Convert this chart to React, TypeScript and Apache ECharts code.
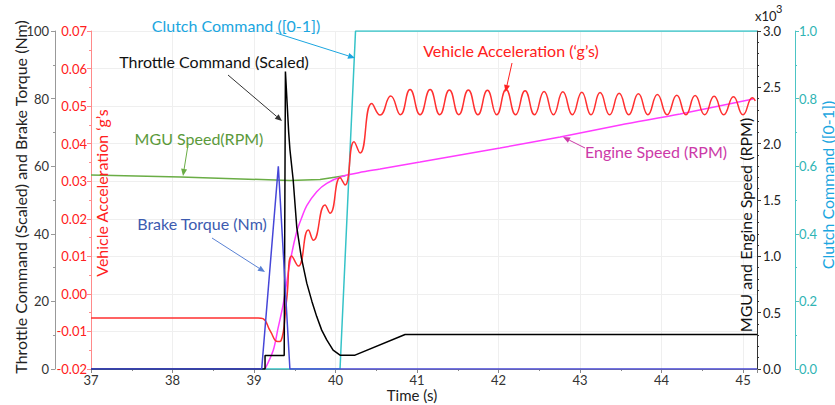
import React, { useEffect, useRef } from 'react';
import * as echarts from 'echarts';

// ---- data (time in s) ----
const throttle: [number, number][] = [
  [37, 0], [39.135, 0], [39.135, 4], [39.37, 4], [39.385, 88], [39.425, 70], [39.44, 65],
  [39.48, 56], [39.524, 42], [39.58, 33], [39.647, 25.4], [39.71, 20], [39.769, 15.5],
  [39.83, 11.5], [39.892, 8.6], [39.97, 5.6], [40.055, 4.1], [40.239, 4.1], [40.853, 10.2], [45.17, 10.2],
];
const brake: [number, number][] = [
  [37, 0], [39.094, 0], [39.298, 60], [39.44, 0], [45.17, 0],
];
const accel: [number, number][] = [
  [37.0, -0.0064], [39.05, -0.0064], [39.11, -0.0066], [39.2, -0.0099], [39.29, -0.0127], [39.33, -0.0125],
  [39.4, -0.0016], [39.463, 0.0101], [39.544, 0.0074], [39.666, 0.017], [39.728, 0.0143],
  [39.871, 0.0237], [39.933, 0.0215], [40.055, 0.0309], [40.117, 0.029], [40.227, 0.0405],
  [40.301, 0.0375], [40.444, 0.0507], [40.546, 0.0476], [40.677, 0.0527], [40.796, 0.0477],
  [40.914, 0.0544], [41.037, 0.0477], [41.16, 0.0544], [41.278, 0.0477], [41.396, 0.0543],
  [41.512, 0.0477], [41.629, 0.0543], [41.746, 0.0477], [41.863, 0.0542], [41.977, 0.0477],
  [42.092, 0.0544], [42.209, 0.0477], [42.325, 0.0541], [42.441, 0.0477], [42.558, 0.0539],
  [42.673, 0.0477], [42.788, 0.0538], [42.905, 0.0477], [43.021, 0.0537], [43.133, 0.0477],
  [43.245, 0.0536], [43.362, 0.0477], [43.479, 0.0534], [43.597, 0.0477], [43.715, 0.0533],
  [43.831, 0.0477], [43.948, 0.0531], [44.067, 0.0477], [44.186, 0.0529], [44.298, 0.0477],
  [44.411, 0.0528], [44.528, 0.0477], [44.644, 0.0526], [44.762, 0.0477], [44.881, 0.0525],
  [44.998, 0.0477], [45.114, 0.0522], [45.15, 0.0514],
];
const mguSpeed: [number, number][] = [
  [37.0, 1722], [38.1, 1704], [39.44, 1673], [39.81, 1682], [40.09, 1713], [40.12, 1716],
];
const engineSpeed: [number, number][] = [
  [39.135, 0], [39.237, 169], [39.294, 360], [39.36, 583], [39.442, 950], [39.524, 1220],
  [39.583, 1340], [39.647, 1450], [39.769, 1574], [39.892, 1648], [40.096, 1713], [40.341, 1750],
  [40.546, 1775], [41.037, 1837], [41.528, 1900], [42.018, 1962], [42.755, 2059], [43.491, 2165],
  [44.227, 2263], [45.123, 2397],
];
const clutch: [number, number][] = [
  [37, 0], [40.055, 0], [40.245, 1], [45.17, 1],
];

const FONT = 'Lato, "Noto Sans", sans-serif';

function arrow(x1: number, y1: number, x2: number, y2: number, color: string) {
  const ang = Math.atan2(y2 - y1, x2 - x1);
  const L = 7, W = 3;
  const bx = x2 - L * Math.cos(ang), by = y2 - L * Math.sin(ang);
  const px = -Math.sin(ang) * W, py = Math.cos(ang) * W;
  return [
    { type: 'line', z: 100, shape: { x1, y1, x2: bx, y2: by }, style: { stroke: color, lineWidth: 1 } },
    { type: 'polygon', z: 100, shape: { points: [[x2, y2], [bx + px, by + py], [bx - px, by - py]] }, style: { fill: color } },
  ];
}

function label(text: string, x: number, y: number, color: string, size = 16, rotation = 0) {
  return {
    type: 'text', z: 100, x, y, rotation,
    style: { text, fill: color, fontSize: size, fontFamily: FONT, align: 'center', verticalAlign: 'middle' },
  };
}

export default function App() {
  const ref = useRef<HTMLDivElement>(null);
  useEffect(() => {
    if (!ref.current) return;
    const chart = echarts.init(ref.current, null, { renderer: 'svg' });
    const tickCommon = (color: string, minorSplit: number) => ({
      axisLine: { show: true, lineStyle: { color } },
      axisTick: { show: true, length: 4, lineStyle: { color } },
      minorTick: { show: true, splitNumber: minorSplit, length: 2, lineStyle: { color } },
    });
    const fmt = (d: number) => (v: number) => (Math.abs(v) < 1e-9 ? 0 : v).toFixed(d);
    const option: any = {
      animation: false,
      backgroundColor: '#fff',
      grid: { left: 91, right: 78, top: 31, bottom: 36, containLabel: false },
      xAxis: {
        type: 'value', min: 37, max: 45.17, interval: 1,
        ...tickCommon('#888', 2),
        axisLabel: { color: '#333', fontSize: 13, fontFamily: FONT, margin: 4 },
        splitLine: { show: true, lineStyle: { color: '#efefef' } },
      },
      yAxis: [
        {
          type: 'value', position: 'left', offset: 36, min: 0, max: 100, interval: 20,
          ...tickCommon('#999', 2),
          axisLabel: { color: '#333', fontSize: 13, fontFamily: FONT, margin: 6 },
          splitLine: { show: false },
        },
        {
          type: 'value', position: 'left', offset: 0, min: -0.02, max: 0.07, interval: 0.01,
          ...tickCommon('#ff8a8a', 2),
          axisLabel: { color: '#ff2020', fontSize: 13, fontFamily: FONT, margin: 4, formatter: fmt(2) },
          splitLine: { show: true, lineStyle: { color: '#efefef' } },
        },
        {
          type: 'value', position: 'right', offset: 0, min: 0, max: 3000, interval: 500,
          ...tickCommon('#333', 5),
          axisLabel: { color: '#222', fontSize: 13, fontFamily: FONT, margin: 6, formatter: (v: number) => (v / 1000).toFixed(1) },
          splitLine: { show: false },
        },
        {
          type: 'value', position: 'right', offset: 38, min: 0, max: 1, interval: 0.2,
          ...tickCommon('#4cc4c4', 2),
          axisLabel: { color: '#2fb4b4', fontSize: 13, fontFamily: FONT, margin: 4, formatter: fmt(1) },
          splitLine: { show: false },
        },
      ],
      series: [
        { name: 'Clutch Command', type: 'line', yAxisIndex: 3, data: clutch, showSymbol: false, lineStyle: { color: '#35c3c8', width: 1.5 } },
        { name: 'MGU Speed', type: 'line', yAxisIndex: 2, data: mguSpeed, showSymbol: false, lineStyle: { color: '#6aad45', width: 1.5 } },
        { name: 'Engine Speed', type: 'line', yAxisIndex: 2, data: engineSpeed, showSymbol: false, smooth: 0.3, lineStyle: { color: '#ff3cff', width: 1.5 } },
        { name: 'Vehicle Acceleration', type: 'line', yAxisIndex: 1, data: accel, showSymbol: false, smooth: 0.5, lineStyle: { color: '#ff3030', width: 1.5 } },
        { name: 'Throttle Command', type: 'line', yAxisIndex: 0, data: throttle, showSymbol: false, lineStyle: { color: '#000', width: 1.5 } },
        { name: 'Brake Torque', type: 'line', yAxisIndex: 0, data: brake, showSymbol: false, lineStyle: { color: '#4646d8', width: 1.5 } },
      ],
      graphic: [
        label('Throttle Command (Scaled) and Brake Torque (Nm)', 20, 197, '#222', 16, Math.PI / 2),
        label('Vehicle Acceleration \u2018g\u2019s', 101, 193, '#ff2020', 16, Math.PI / 2),
        label('MGU and Engine Speed (RPM)', 745, 225, '#111', 16, Math.PI / 2),
        label('Clutch Command ([0-1])', 827, 185, '#1ba6e0', 16, Math.PI / 2),
        label('Time (s)', 412, 395, '#222', 15),
        { type: 'text', z: 100, x: 755, y: 9, style: { text: 'x10', fill: '#222', fontSize: 13, fontFamily: FONT } },
        { type: 'text', z: 100, x: 776, y: 3, style: { text: '3', fill: '#222', fontSize: 11, fontFamily: FONT } },
        label('Clutch Command ([0-1])', 236, 25, '#1ba6e0', 16),
        ...arrow(276, 33, 355, 58, '#1ba6e0'),
        label('Throttle Command (Scaled)', 214, 61, '#111', 16),
        ...arrow(228, 75, 282, 121, '#333'),
        label('Vehicle Acceleration (\u2018g\u2019s)', 511, 50, '#ff2020', 16),
        ...arrow(512, 63, 505.5, 92, '#ff2020'),
        label('MGU Speed(RPM)', 199, 138, '#5b9a3b', 16),
        ...arrow(188, 145, 183, 176, '#6aad45'),
        label('Brake Torque (Nm)', 202, 223, '#3c5bb0', 16),
        ...arrow(212, 238, 265, 272, '#5a82d4'),
        label('Engine Speed (RPM)', 656, 151, '#cc3aa8', 16),
        ...arrow(585, 148, 563, 137, '#cc3aa8'),
      ],
    };
    chart.setOption(option);
    return () => chart.dispose();
  }, []);
  return <div ref={ref} style={{ position: 'fixed', left: 0, top: 0, width: 835, height: 405 }} />;
}
